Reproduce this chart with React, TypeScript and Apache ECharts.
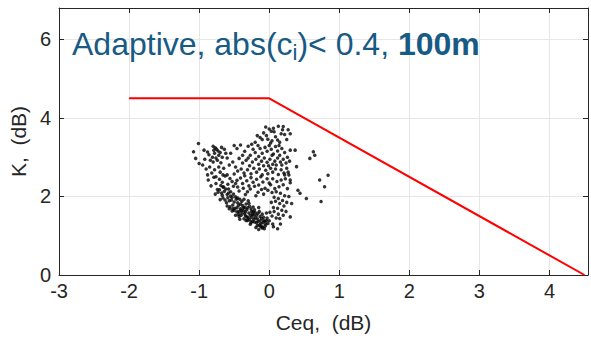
import React, { useEffect, useRef } from "react";
import * as echarts from "echarts";

const xRange = [-3, 4.55];
const yRange = [0, 6.8];
const xTickStep = 1;
const yTickStep = 2;

const xLabel = "Ceq,  (dB)";
const yLabel = "K,  (dB)";

// Threshold line (Ceq, K)
const thresholdLine: [number, number][] = [
  [-2, 4.5],
  [0, 4.5],
  [4.5, 0],
];

// Measured points (Ceq, K)
const topPoints: [number, number][] = [
  [-0.05, 3.77], [0.0, 3.72], [0.03, 3.66], [0.06, 3.74], [0.13, 3.79], [0.2, 3.78], [0.17, 3.6],
  [0.22, 3.58], [0.3, 3.6], [0.19, 3.7], [-0.13, 3.5], [-0.1, 3.45], [-0.04, 3.55], [-0.02, 3.46],
  [0.04, 3.42], [0.09, 3.52], [0.12, 3.44], [0.15, 3.38], [-0.2, 3.38], [-0.17, 3.55], [0.25, 3.45],
  [0.02, 3.36], [-0.08, 3.62], [0.07, 3.65], [0.27, 3.7],
];

const upperMidPoints: [number, number][] = [
  [-0.5, 3.3], [-0.46, 3.22], [-0.41, 3.31], [-0.35, 3.15], [-0.3, 3.28], [-0.27, 3.05], [-0.23, 3.2],
  [-0.2, 3.12], [-0.16, 3.3], [-0.13, 3.22], [-0.1, 3.1], [-0.06, 3.25], [-0.03, 3.15], [0.0, 3.3],
  [0.03, 3.2], [0.06, 3.08], [0.09, 3.27], [0.12, 3.16], [0.15, 3.05], [0.18, 3.22], [0.22, 3.12],
  [0.26, 3.0], [0.29, 2.9], [0.24, 2.85], [0.2, 2.95], [0.16, 2.88], [0.12, 2.98], [0.08, 2.9],
  [0.05, 2.82], [0.01, 2.95], [-0.03, 2.87], [-0.07, 2.98], [-0.11, 2.9], [-0.15, 2.82], [-0.19, 2.95],
  [-0.24, 2.88], [-0.28, 2.78], [-0.33, 2.92], [-0.38, 2.85], [-0.43, 2.97], [-0.48, 2.75], [-0.52, 2.88],
  [-0.45, 2.65], [-0.4, 2.7], [-0.36, 2.6], [-0.31, 2.68], [-0.26, 2.58], [-0.22, 2.72], [-0.18, 2.62],
  [-0.14, 2.7], [-0.1, 2.55], [-0.05, 2.67], [-0.02, 2.58], [0.02, 2.72], [0.05, 2.62], [0.09, 2.7],
  [0.13, 2.56], [0.17, 2.68], [0.21, 2.6], [0.25, 2.72], [0.28, 2.55], [0.1, 2.8], [-0.08, 2.78],
  [-0.3, 2.98], [0.14, 3.3], [-0.25, 3.33], [0.04, 3.05], [-0.15, 3.02], [0.3, 3.18], [-0.38, 3.05],
  [-0.55, 3.1], [0.18, 2.8], [-0.01, 2.78],
];

const leftPoints: [number, number][] = [
  [-1.01, 3.35], [-1.08, 3.14], [-1.05, 2.97], [-1.0, 2.84], [-0.93, 3.18], [-0.88, 3.13], [-0.86, 3.06],
  [-0.8, 3.28], [-0.77, 3.24], [-0.75, 3.2], [-0.73, 3.16], [-0.78, 3.1], [-0.81, 3.0], [-0.76, 2.98],
  [-0.72, 3.05], [-0.7, 3.12], [-0.67, 3.0], [-0.84, 2.92], [-0.8, 2.88], [-0.74, 2.92], [-0.69, 2.86],
  [-0.64, 3.2], [-0.62, 3.1], [-0.6, 2.98], [-0.95, 2.8], [-0.9, 2.7], [-0.85, 2.75], [-0.82, 2.6],
  [-0.88, 2.55], [-0.78, 2.68], [-0.76, 2.5], [-0.7, 2.62], [-0.65, 2.72], [-0.6, 2.55], [-0.57, 2.8],
  [-0.68, 3.25], [-0.72, 2.75], [-0.92, 2.95], [-0.79, 3.18], [-0.66, 2.55],
];

const lowerMidPoints: [number, number][] = [
  [-0.87, 2.42], [-0.83, 2.27], [-0.79, 2.49], [-0.76, 2.33], [-0.74, 2.18], [-0.71, 2.44], [-0.67, 2.36],
  [-0.63, 2.52], [-0.59, 2.31], [-0.56, 2.46], [-0.53, 2.38], [-0.5, 2.57], [-0.46, 2.41], [-0.45, 2.24],
  [-0.41, 2.47], [-0.38, 2.33], [-0.35, 2.53], [-0.32, 2.4], [-0.29, 2.27], [-0.26, 2.48], [-0.23, 2.36],
  [-0.18, 2.44], [-0.15, 2.29], [-0.12, 2.5], [-0.09, 2.37], [-0.06, 2.21], [-0.03, 2.45], [0.0, 2.34],
  [-0.58, 2.19], [-0.51, 2.26], [-0.43, 2.14], [-0.37, 2.21], [-0.31, 2.12], [-0.27, 2.19], [-0.21, 2.26],
  [-0.16, 2.11], [-0.11, 2.18], [-0.66, 2.24], [-0.48, 2.33], [-0.34, 2.05], [-0.08, 2.06], [-0.19, 2.02],
  [-0.02, 2.16],
];

const bandPoints: [number, number][] = [
  [-0.71, 2.17], [-0.58, 2.09], [-0.66, 1.96], [-0.52, 1.78], [-0.69, 2.28], [-0.47, 1.93], [-0.61, 1.84],
  [-0.55, 2.01], [-0.43, 1.62], [-0.64, 2.13], [-0.49, 1.7], [-0.38, 1.77], [-0.57, 1.89], [-0.45, 1.84],
  [-0.34, 1.51], [-0.6, 2.05], [-0.41, 1.69], [-0.29, 1.58], [-0.53, 1.63], [-0.36, 1.43], [-0.48, 1.99],
  [-0.25, 1.47], [-0.32, 1.66], [-0.44, 1.55], [-0.21, 1.35], [-0.39, 1.88], [-0.27, 1.29], [-0.18, 1.52],
  [-0.35, 1.72], [-0.23, 1.61], [-0.14, 1.27], [-0.31, 1.39], [-0.19, 1.21], [-0.11, 1.44], [-0.28, 1.75],
  [-0.16, 1.37], [-0.07, 1.18], [-0.24, 1.55], [-0.12, 1.31], [-0.04, 1.39], [-0.67, 2.03], [-0.62, 2.19],
  [-0.5, 1.86], [-0.56, 1.74], [-0.46, 1.61], [-0.4, 1.52], [-0.37, 1.64], [-0.33, 1.81], [-0.3, 1.46],
  [-0.26, 1.68], [-0.22, 1.42], [-0.2, 1.59], [-0.17, 1.26], [-0.13, 1.49], [-0.09, 1.33], [-0.06, 1.24],
  [-0.02, 1.31], [-0.15, 1.16], [-0.1, 1.2], [-0.73, 2.11], [-0.63, 1.91], [-0.59, 1.97], [-0.54, 1.91],
  [-0.51, 2.06], [-0.44, 1.77], [-0.42, 1.93], [-0.39, 1.58], [-0.35, 1.56], [-0.31, 1.71], [-0.27, 1.52],
  [-0.24, 1.36], [-0.21, 1.66], [-0.17, 1.43], [-0.13, 1.38], [-0.08, 1.47], [-0.05, 1.29], [-0.65, 2.24],
  [-0.57, 1.69], [-0.48, 1.52], [-0.41, 1.81], [-0.36, 1.93], [-0.32, 1.48], [-0.28, 1.41], [-0.25, 1.62],
  [-0.2, 1.46], [-0.16, 1.57], [-0.12, 1.23], [-0.08, 1.39], [-0.03, 1.45], [-0.7, 1.92], [-0.6, 1.76],
  [-0.53, 1.98], [-0.46, 1.71], [-0.43, 1.49], [-0.37, 1.71], [-0.33, 1.39], [-0.29, 1.83], [-0.23, 1.73],
  [-0.18, 1.33], [-0.14, 1.62], [-0.1, 1.55], [-0.06, 1.36], [-0.68, 2.09], [-0.55, 2.12], [-0.5, 1.64],
  [-0.45, 1.96], [-0.4, 1.64], [-0.34, 1.61], [-0.26, 1.34], [-0.22, 1.53], [-0.77, 2.06], [-0.52, 1.69],
  [-0.42, 1.42], [-0.3, 1.89], [-0.15, 1.72], [-0.04, 1.58],
];

const rightMidPoints: [number, number][] = [
  [0.02, 2.3], [0.05, 2.45], [0.08, 2.2], [0.11, 2.38], [0.14, 2.25], [0.17, 2.42], [0.2, 2.3],
  [0.23, 2.45], [0.26, 2.2], [0.3, 2.35], [0.04, 2.1], [0.07, 1.98], [0.1, 2.12], [0.13, 1.95],
  [0.16, 2.08], [0.19, 1.9], [0.22, 2.02], [0.25, 1.85], [0.28, 2.0], [0.03, 1.85], [0.06, 1.72],
  [0.09, 1.88], [0.12, 1.7], [0.15, 1.82], [0.18, 1.65], [0.21, 1.76], [0.01, 1.6], [0.04, 1.5],
  [0.07, 1.62], [0.1, 1.45], [0.13, 1.55], [0.0, 1.38], [0.05, 1.3], [0.2, 1.52], [0.24, 1.62],
  [0.22, 2.55], [0.27, 2.62], [0.12, 1.18], [0.16, 1.3],
];

const outerPoints: [number, number][] = [
  [0.37, 3.18], [0.58, 2.97], [0.63, 3.14], [0.65, 3.05], [0.39, 2.76], [0.3, 2.42], [0.72, 2.42],
  [0.79, 2.25], [0.84, 2.54], [0.74, 1.87], [0.53, 1.95], [0.41, 2.16], [0.44, 2.08], [0.32, 1.82],
  [0.3, 1.48], [0.15, 1.44], [0.06, 1.23], [-0.1, 1.23],
];

const scatterPoints = [
  ...topPoints,
  ...upperMidPoints,
  ...leftPoints,
  ...lowerMidPoints,
  ...bandPoints,
  ...rightMidPoints,
  ...outerPoints,
];

const FONT = "'Liberation Sans', Arial, sans-serif";
const INK = "#262626";
const TITLE = "#175a84";

export default function App() {
  const ref = useRef<HTMLDivElement>(null);

  useEffect(() => {
    if (!ref.current) return;
    const chart = echarts.init(ref.current, undefined, { renderer: "svg" });

    const axisLine = { show: true, onZero: false, lineStyle: { color: INK, width: 1 } };
    const axisTick = { show: true, inside: true, length: 5, lineStyle: { color: INK, width: 1 } };
    const intFmt = (v: number) => (Math.abs(v - Math.round(v)) < 1e-9 ? String(v) : "");

    chart.setOption({
      animation: false,
      backgroundColor: "#ffffff",
      grid: { left: 57, right: 3, top: 8, bottom: 63, containLabel: false },
      xAxis: [
        {
          type: "value",
          min: xRange[0],
          max: xRange[1],
          interval: xTickStep,
          position: "bottom",
          axisLine,
          axisTick,
          axisLabel: {
            color: INK,
            fontSize: 20,
            fontFamily: FONT,
            margin: 6,
            showMaxLabel: false,
            formatter: intFmt,
          },
          splitLine: { show: true, lineStyle: { color: "#e6e6e6", width: 1 } },
          name: xLabel,
          nameLocation: "middle",
          nameGap: 37,
          nameTextStyle: { color: INK, fontSize: 21, fontFamily: FONT },
        },
        {
          type: "value",
          min: xRange[0],
          max: xRange[1],
          interval: xTickStep,
          position: "top",
          axisLine,
          axisTick,
          axisLabel: { show: false },
          splitLine: { show: false },
        },
      ],
      yAxis: [
        {
          type: "value",
          min: yRange[0],
          max: yRange[1],
          interval: yTickStep,
          position: "left",
          axisLine,
          axisTick,
          axisLabel: {
            color: INK,
            fontSize: 20,
            fontFamily: FONT,
            margin: 8,
            showMaxLabel: false,
            formatter: intFmt,
          },
          splitLine: { show: true, lineStyle: { color: "#e6e6e6", width: 1 } },
          name: yLabel,
          nameLocation: "middle",
          nameGap: 24,
          nameRotate: 90,
          nameTextStyle: { color: INK, fontSize: 21, fontFamily: FONT },
        },
        {
          type: "value",
          min: yRange[0],
          max: yRange[1],
          interval: yTickStep,
          position: "right",
          axisLine,
          axisTick,
          axisLabel: { show: false },
          splitLine: { show: false },
        },
      ],
      series: [
        {
          type: "scatter",
          data: scatterPoints,
          symbol: "circle",
          symbolSize: 3.5,
          itemStyle: { color: "#000000" },
          silent: true,
          z: 3,
        },
        {
          type: "line",
          data: thresholdLine,
          symbol: "none",
          lineStyle: { color: "#ff0000", width: 2 },
          silent: true,
          z: 4,
        },
      ],
      graphic: [
        {
          type: "text",
          left: 72,
          top: 24,
          z: 10,
          style: {
            text: "{n|Adaptive, abs(c}{s|i}{n|)< 0.4, }{b|100m}",
            rich: {
              n: { fontSize: 32, fontFamily: FONT, fill: TITLE, lineHeight: 40, verticalAlign: "middle" },
              s: {
                fontSize: 22,
                fontFamily: FONT,
                fill: TITLE,
                lineHeight: 22,
                verticalAlign: "top",
                padding: [17, 0, 0, 0],
              },
              b: {
                fontSize: 32,
                fontFamily: FONT,
                fontWeight: "bold",
                fill: TITLE,
                lineHeight: 40,
                verticalAlign: "middle",
              },
            },
          },
        },
      ],
    });

    return () => chart.dispose();
  }, []);

  return (
    <div
      ref={ref}
      style={{ position: "fixed", left: 0, top: 0, width: 591, height: 338, background: "#fff" }}
    />
  );
}
